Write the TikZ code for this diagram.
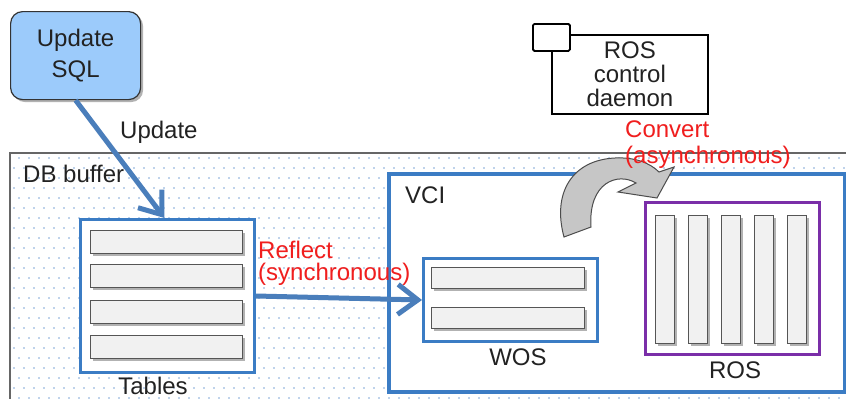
\documentclass[tikz,border=0pt]{standalone}
\usepackage{fontspec}
\setmainfont{Liberation Sans}
\usetikzlibrary{arrows.meta,shadows,calc}
\definecolor{bluln}{HTML}{3B7CC4}
\definecolor{arrblue}{HTML}{4A7EBB}
\definecolor{sqlfill}{HTML}{9CCBFB}
\definecolor{purp}{HTML}{7A2EA8}
\definecolor{redtxt}{HTML}{F01E1E}
\definecolor{txt}{HTML}{222222}
\definecolor{dotc}{HTML}{7FA6D8}
\definecolor{rowfill}{HTML}{F1F1F1}
\definecolor{rowline}{HTML}{555555}
\begin{document}
\begin{tikzpicture}[x=1pt,y=-1pt,
  every node/.style={text=txt},
  font=\fontsize{24}{27}\selectfont,
  lbl/.style={inner sep=0pt, anchor=base west},
  clbl/.style={inner sep=0pt, anchor=base},
  redlbl/.style={lbl, text=redtxt},
  bluebox/.style={draw=bluln, line width=3pt, fill=white, inner sep=0pt, anchor=north west},
  rowbox/.style={draw=rowline, line width=1.2pt, fill=rowfill, inner sep=0pt, anchor=north west,
     drop shadow={shadow xshift=2.5pt, shadow yshift=-2.5pt, opacity=.3, fill=black}},
  arr/.style={draw=arrblue, line width=5pt, -{Straight Barb[length=20pt, width=30pt]}},
]
\useasboundingbox (0,0) rectangle (846,399);
\fill[white] (0,0) rectangle (846,399);

% DB buffer area
\begin{scope}
  \clip (10,153) rectangle (846,399);
  \foreach \y [count=\i] in {158,168,...,398} {
    \pgfmathsetmacro\off{mod(\i,2)*5}
    \foreach \x in {14,24,...,846} \fill[dotc] (\x+\off,\y) circle (0.85);
  }
\end{scope}
\draw[gray!80!black, line width=1.3pt] (846,153) -- (10,153) -- (10,399);
\node[lbl] (dbbuf) at (23,182) {DB buffer};

% Update SQL
\node[draw=gray!40!black, line width=1.2pt, fill=sqlfill, rounded corners=12pt,
      minimum width=130pt, minimum height=88pt, inner sep=0pt, align=center,
      font=\fontsize{24}{31}\selectfont,
      drop shadow={shadow xshift=2.5pt, shadow yshift=-2.5pt, opacity=.3, fill=black},
      anchor=north west] (sql) at (10,11) {Update\\SQL};
\node[lbl] (updlbl) at (120,138) {Update};

% Tables
\node[bluebox, minimum width=174pt, minimum height=153pt] (tables) at (79,218) {};
\node[rowbox, minimum width=152pt, minimum height=23pt] (t1) at (90,230) {};
\node[rowbox, minimum width=152pt, minimum height=23pt] (t2) at (90,264) {};
\node[rowbox, minimum width=152pt, minimum height=23pt] (t3) at (90,300) {};
\node[rowbox, minimum width=152pt, minimum height=23pt] (t4) at (90,335) {};
\node[clbl] (tablbl) at (153,394) {Tables};

% VCI
\node[bluebox, line width=3.5pt, minimum width=456pt, minimum height=218pt] (vci) at (387,172) {};
\node[lbl] (vcilbl) at (405,203) {VCI};

% WOS
\node[bluebox, minimum width=174pt, minimum height=83pt] (wos) at (422,257) {};
\node[rowbox, minimum width=153pt, minimum height=21pt] (w1) at (431,267) {};
\node[rowbox, minimum width=153pt, minimum height=21pt] (w2) at (431,307) {};
\node[clbl] (woslbl) at (518,365) {WOS};

% ROS
\node[draw=purp, line width=2.5pt, fill=white, inner sep=0pt, anchor=north west,
      minimum width=174pt, minimum height=152pt] (ros) at (644,201) {};
\foreach \x [count=\k] in {655,688,721,754,787}
  \node[rowbox, minimum width=19pt, minimum height=128pt] (r\k) at (\x,215) {};
\node[clbl] (roslbl) at (735,378) {ROS};

% ROS control daemon
\node[draw=black, line width=1.8pt, fill=white, inner sep=0pt, anchor=north west,
      minimum width=156pt, minimum height=79pt, align=center,
      font=\fontsize{24}{24}\selectfont] (daemon) at (551,34) {ROS\\control\\daemon};
\node[draw=black, line width=1.8pt, fill=white, rounded corners=1.5pt, inner sep=0pt,
      anchor=north west, minimum width=37pt, minimum height=27pt] (port) at (532,23) {};

% Arrows
\draw[arr] (sql.south) -- ([xshift=-3pt]tables.north);
\draw[arr] (tables.east) -- (wos.west);

% Curved convert arrow
\draw[draw=gray!60!black, line width=1pt, fill=gray!45, line join=miter]
  (564,237) .. controls (552,193) and (572,160) .. (615,158)
  .. controls (635,157) and (650,163) .. (659,172)
  -- (674,167) -- (657,198) -- (618,192) -- (636,183)
  .. controls (618,172) and (588,182) .. (591,227) -- cycle;

% Red labels
\node[redlbl] (refl1) at (258,258) {Reflect};
\node[redlbl] (refl2) at (258,280) {(synchronous)};
\node[redlbl] (conv1) at (625,137) {Convert};
\node[redlbl] (conv2) at (625,163) {(asynchronous)};
\end{tikzpicture}
\end{document}
